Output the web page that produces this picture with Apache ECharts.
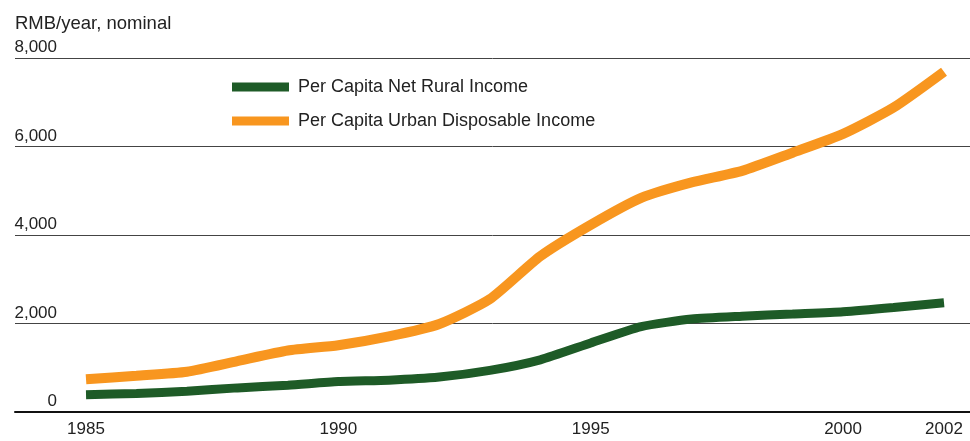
<!DOCTYPE html>
<html>
<head>
<meta charset="utf-8">
<script src="https://cdn.jsdelivr.net/npm/echarts@6/dist/echarts.min.js"></script>
<style>html,body{margin:0;padding:0;background:#fff}#c{width:970px;height:441px}</style>
</head>
<body>
<div id="c"></div>
<script>
const years = [1985,1986,1987,1988,1989,1990,1991,1992,1993,1994,1995,1996,1997,1998,1999,2000,2001,2002];
const rural = [390,420,470,545,605,690,720,790,940,1180,1560,1930,2100,2165,2215,2265,2360,2470];
const urban = [740,820,910,1150,1390,1510,1710,1990,2550,3520,4230,4840,5190,5450,5860,6285,6880,7690];
const xTicks = [1985,1990,1995,2000,2002];
const seriesNames = ['Per Capita Net Rural Income','Per Capita Urban Disposable Income'];
const FONT = 'Liberation Sans';

const chart = echarts.init(document.getElementById('c'), null, {renderer:'canvas'});
chart.setOption({
  animation:false,
  backgroundColor:'#fff',
  title:{text:'RMB/year, nominal', left:10, top:9,
    textStyle:{fontFamily:FONT, fontSize:18.5, fontWeight:'normal', color:'#222'}},
  legend:{orient:'vertical', left:232, top:78, padding:0, itemWidth:57, itemHeight:9, itemGap:16,
    icon:'rect', data:seriesNames,
    textStyle:{fontFamily:FONT, fontSize:18, color:'#222', padding:[0,0,0,4]}},
  grid:{left:15, right:0, top:58, bottom:29, containLabel:false},
  xAxis:{type:'value', min:1983.593, max:2002.515,
    axisLine:{show:true, lineStyle:{color:'#111', width:2}},
    axisTick:{show:false}, splitLine:{show:false},
    axisLabel:{customValues:xTicks, formatter:v=>String(v), margin:9,
      fontFamily:FONT, fontSize:17, color:'#222'}},
  yAxis:{type:'value', min:0, max:8000, interval:2000,
    axisLine:{show:false}, axisTick:{show:false},
    splitLine:{show:true, lineStyle:{color:'#444', width:1}},
    axisLabel:{inside:true, align:'right', margin:42, verticalAlign:'bottom',
      padding:[0,0,2,0],
      formatter:v=>v.toLocaleString('en-US'),
      fontFamily:FONT, fontSize:17, color:'#222'}},
  series:[
    {name:seriesNames[0], type:'line', data:years.map((y,i)=>[y,rural[i]]),
      showSymbol:false, smooth:0.2, color:'#1e5b27', lineStyle:{width:9, color:'#1e5b27'}},
    {name:seriesNames[1], type:'line', data:years.map((y,i)=>[y,urban[i]]),
      showSymbol:false, smooth:0.2, color:'#f8961f', lineStyle:{width:10, color:'#f8961f'}}
  ]
});
</script>
</body>
</html>
